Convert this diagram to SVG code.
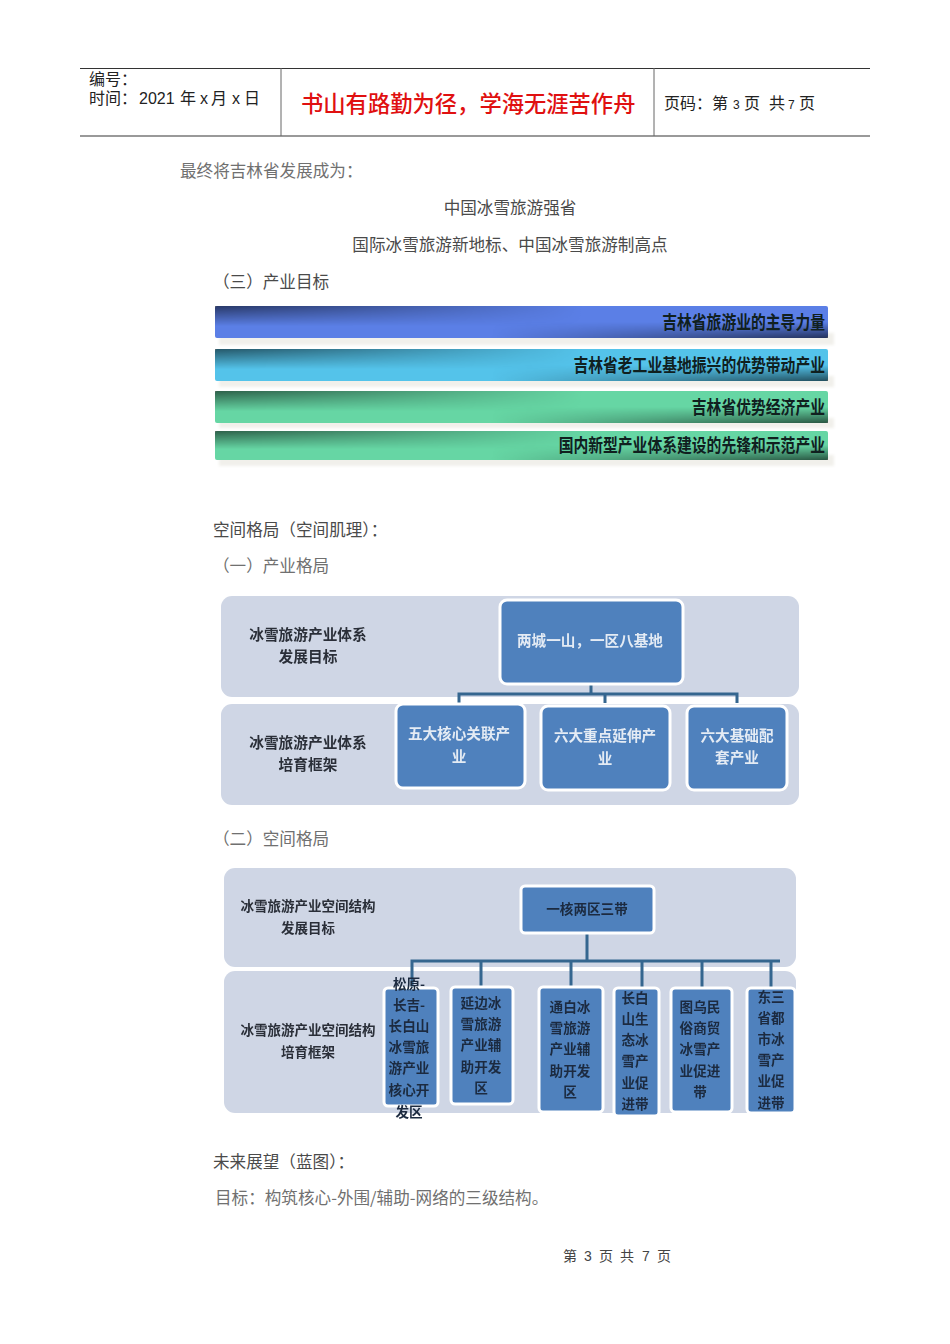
<svg xmlns="http://www.w3.org/2000/svg" width="950" height="1344" viewBox="0 0 950 1344">
<style>
text{font-family:"Noto Sans CJK SC","Noto Sans",sans-serif}
.b{font-size:16.6px;fill:#707070}
.d{font-size:16.6px;fill:#4a4a4a}
.h{font-size:16px;fill:#222}
.a{font-family:"Liberation Sans",sans-serif}
.m{text-anchor:middle}
.bar{font-size:14.8px;font-weight:700;fill:#10201f;text-anchor:end}
.l{font-size:14.7px;font-weight:700;fill:#2a2f38;text-anchor:middle}
.l2{font-size:13.5px;font-weight:700;fill:#2a2f38;text-anchor:middle}
.w{font-size:14.6px;font-weight:700;fill:#e4ebf4;text-anchor:middle}
.n{font-size:13.6px;font-weight:700;fill:#1c2b40;text-anchor:middle}
.p{fill:#cfd6e5}
.t{fill:#4f81bd;stroke:#fff;stroke-width:3}
.c{fill:none;stroke:#35668f;stroke-width:3}
</style>
<defs>
<linearGradient id="v1" x1="0" y1="0" x2="0" y2="1"><stop offset="0" stop-color="#000" stop-opacity=".55"/><stop offset="1" stop-color="#000" stop-opacity="0"/></linearGradient>
<linearGradient id="v2" x1="0" y1="0" x2="0" y2="1"><stop offset="0" stop-color="#000" stop-opacity="0"/><stop offset="1" stop-color="#000" stop-opacity=".6"/></linearGradient>
<linearGradient id="fl" x1="0" y1="0" x2="1" y2="0"><stop offset="0" stop-color="#fff"/><stop offset=".6" stop-color="#000"/></linearGradient>
<linearGradient id="fr" x1="0" y1="0" x2="1" y2="0"><stop offset=".45" stop-color="#000"/><stop offset="1" stop-color="#fff"/></linearGradient>
<mask id="ml" maskUnits="userSpaceOnUse" x="215" y="300" width="613" height="170"><rect x="215" y="300" width="613" height="170" fill="url(#fl)"/></mask>
<mask id="mr" maskUnits="userSpaceOnUse" x="215" y="300" width="613" height="170"><rect x="215" y="300" width="613" height="170" fill="url(#fr)"/></mask>
<filter id="s" x="-5%" y="-5%" width="110%" height="110%"><feGaussianBlur stdDeviation="0.5"/></filter>
<filter id="s2" x="-5%" y="-30%" width="110%" height="160%"><feGaussianBlur stdDeviation="1.5"/></filter>
</defs>

<g id="header">
<path d="M80 68.5H870" stroke="#333" stroke-width="1" fill="none"/>
<path d="M80 136H870" stroke="#777" stroke-width="1.5" fill="none"/>
<path d="M281 68V136M654 68V136" stroke="#666" stroke-width="1" fill="none"/>
<text x="89" y="85" class="h">编号：</text>
<text y="104" class="h"><tspan x="89">时间：</tspan><tspan x="139" class="a">2021</tspan><tspan x="180">年</tspan><tspan x="200" class="a">x</tspan><tspan x="211">月</tspan><tspan x="232" class="a">x</tspan><tspan x="244">日</tspan></text>
<text x="301" y="112" font-size="22.3" font-weight="500" fill="#e01010">书山有路勤为径，学海无涯苦作舟</text>
<text y="109" class="h"><tspan x="664">页码：第</tspan><tspan x="733" font-size="12" class="a">3</tspan><tspan x="744">页</tspan><tspan x="769">共</tspan><tspan x="788" font-size="12" class="a">7</tspan><tspan x="799">页</tspan></text>
</g>

<g id="body">
<text x="180" y="177" class="b">最终将吉林省发展成为：</text>
<text x="510" y="214" class="d m">中国冰雪旅游强省</text>
<text x="510" y="251" class="d m">国际冰雪旅游新地标、中国冰雪旅游制高点</text>
<text x="213" y="288" class="d">（三）产业目标</text>
<text x="213" y="536" class="d">空间格局（空间肌理）：</text>
<text x="213" y="572" class="b">（一）产业格局</text>
<text x="213" y="845" class="b">（二）空间格局</text>
<text x="213" y="1168" class="d">未来展望（蓝图）：</text>
<text x="215" y="1204" class="b">目标：构筑核心-外围/辅助-网络的三级结构。</text>
<text y="1261" font-size="14" fill="#444"><tspan x="563">第</tspan><tspan x="584" class="a">3</tspan><tspan x="599">页</tspan><tspan x="620">共</tspan><tspan x="642" class="a">7</tspan><tspan x="657">页</tspan></text>
</g>

<g id="bars">
<g filter="url(#s2)" fill="#f1f0eb">
<rect x="219" y="333" width="615" height="12"/>
<rect x="219" y="376" width="615" height="11"/>
<rect x="219" y="418" width="615" height="10"/>
<rect x="219" y="455" width="615" height="11"/>
</g>
<g id="bar1"><rect x="215" y="306" width="613" height="32" rx="2" fill="#5b7fe6"/>
<rect x="215" y="306" width="613" height="20" fill="url(#v1)" mask="url(#ml)"/><rect x="215" y="322" width="613" height="16" fill="url(#v2)" mask="url(#mr)"/>
<text class="bar" transform="translate(825 329) scale(1 1.25)">吉林省旅游业的主导力量</text></g>
<g id="bar2"><rect x="215" y="349" width="613" height="32" rx="2" fill="#54c3ea"/>
<rect x="215" y="349" width="613" height="20" fill="url(#v1)" mask="url(#ml)"/><rect x="215" y="365" width="613" height="16" fill="url(#v2)" mask="url(#mr)"/>
<text class="bar" transform="translate(825 372) scale(1 1.25)">吉林省老工业基地振兴的优势带动产业</text></g>
<g id="bar3"><rect x="215" y="391" width="613" height="32" rx="2" fill="#66d6a4"/>
<rect x="215" y="391" width="613" height="20" fill="url(#v1)" mask="url(#ml)"/><rect x="215" y="407" width="613" height="16" fill="url(#v2)" mask="url(#mr)"/>
<text class="bar" transform="translate(825 414) scale(1 1.25)">吉林省优势经济产业</text></g>
<g id="bar4"><rect x="215" y="431" width="613" height="29" rx="2" fill="#66d6a4"/>
<rect x="215" y="431" width="613" height="18" fill="url(#v1)" mask="url(#ml)"/><rect x="215" y="445" width="613" height="15" fill="url(#v2)" mask="url(#mr)"/>
<text class="bar" transform="translate(825 452) scale(1 1.25)">国内新型产业体系建设的先锋和示范产业</text></g>
</g>

<g id="diagram1" filter="url(#s)">
<rect class="p" x="221" y="596" width="578" height="101" rx="11"/>
<rect class="p" x="221" y="704" width="578" height="101" rx="11"/>
<g id="connectors1"><path class="c" d="M591 684V694M459 703V694H737V703M605 694V703"/></g>
<g id="goal1"><text class="l" x="308" y="640">冰雪旅游产业体系</text><text class="l" x="308" y="662">发展目标</text></g>
<g id="frame1"><text class="l" x="308" y="748">冰雪旅游产业体系</text><text class="l" x="308" y="770">培育框架</text></g>
<g id="top1"><rect class="t" x="500" y="600" width="183" height="84" rx="7"/><text class="w" x="590" y="646">两城一山，一区八基地</text></g>
<g id="n11"><rect class="t" x="396" y="704" width="129" height="84" rx="7"/><text class="w" x="459" y="739">五大核心关联产</text><text class="w" x="459" y="762">业</text></g>
<g id="n12"><rect class="t" x="541" y="706" width="129" height="84" rx="7"/><text class="w" x="605" y="741">六大重点延伸产</text><text class="w" x="605" y="764">业</text></g>
<g id="n13"><rect class="t" x="687" y="706" width="100" height="84" rx="7"/><text class="w" x="737" y="741">六大基础配</text><text class="w" x="737" y="763">套产业</text></g>
</g>

<g id="diagram2" filter="url(#s)">
<rect class="p" x="224" y="868" width="572" height="99" rx="11"/>
<rect class="p" x="224" y="971" width="572" height="142" rx="11"/>
<g id="connectors2"><path class="c" d="M587 933V961M412 988V961H780M481 961V988M571 961V987M642 961V988M702 961V988M771 961V988"/></g>
<g id="goal2"><text class="l2" x="308" y="911">冰雪旅游产业空间结构</text><text class="l2" x="308" y="933">发展目标</text></g>
<g id="frame2"><text class="l2" x="308" y="1035">冰雪旅游产业空间结构</text><text class="l2" x="308" y="1057">培育框架</text></g>
<g id="top2"><rect class="t" x="521" y="886" width="133" height="47" rx="4"/><text class="n" x="587" y="914">一核两区三带</text></g>
<g id="n21"><rect class="t" x="384" y="988" width="54" height="118" rx="4"/>
<text class="n" x="409" y="989">松原-</text><text class="n" x="409" y="1010">长吉-</text><text class="n" x="409" y="1031">长白山</text><text class="n" x="409" y="1052">冰雪旅</text><text class="n" x="409" y="1073">游产业</text><text class="n" x="409" y="1095">核心开</text><text class="n" x="409" y="1117">发区</text></g>
<g id="n22"><rect class="t" x="451" y="987" width="62" height="117" rx="4"/>
<text class="n" x="481" y="1008">延边冰</text><text class="n" x="481" y="1029">雪旅游</text><text class="n" x="481" y="1050">产业辅</text><text class="n" x="481" y="1072">助开发</text><text class="n" x="481" y="1093">区</text></g>
<g id="n23"><rect class="t" x="539" y="987" width="64" height="125" rx="4"/>
<text class="n" x="570" y="1012">通白冰</text><text class="n" x="570" y="1033">雪旅游</text><text class="n" x="570" y="1054">产业辅</text><text class="n" x="570" y="1076">助开发</text><text class="n" x="570" y="1097">区</text></g>
<g id="n24"><rect class="t" x="614" y="988" width="45" height="128" rx="4"/>
<text class="n" x="635" y="1003">长白</text><text class="n" x="635" y="1024">山生</text><text class="n" x="635" y="1045">态冰</text><text class="n" x="635" y="1066">雪产</text><text class="n" x="635" y="1088">业促</text><text class="n" x="635" y="1109">进带</text></g>
<g id="n25"><rect class="t" x="671" y="988" width="61" height="124" rx="4"/>
<text class="n" x="700" y="1012">图乌民</text><text class="n" x="700" y="1033">俗商贸</text><text class="n" x="700" y="1054">冰雪产</text><text class="n" x="700" y="1076">业促进</text><text class="n" x="700" y="1097">带</text></g>
<g id="n26"><rect class="t" x="747" y="988" width="48" height="125" rx="4"/>
<text class="n" x="771" y="1002">东三</text><text class="n" x="771" y="1023">省都</text><text class="n" x="771" y="1044">市冰</text><text class="n" x="771" y="1065">雪产</text><text class="n" x="771" y="1086">业促</text><text class="n" x="771" y="1108">进带</text></g>
</g>
</svg>
